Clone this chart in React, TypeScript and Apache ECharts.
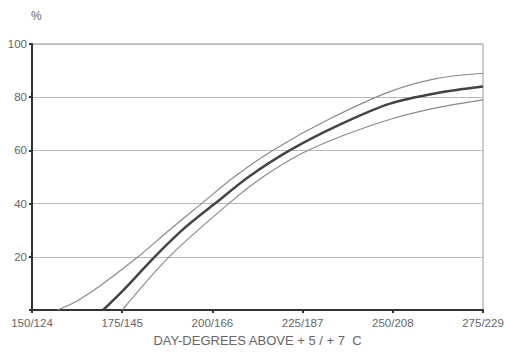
import React, { useEffect, useRef } from "react";
import * as echarts from "echarts";

const xTickValues = [150, 175, 200, 225, 250, 275];
const xTickLabels = ["150/124", "175/145", "200/166", "225/187", "250/208", "275/229"];

const mainX = [169.7, 175, 184, 192, 200.7, 210, 221.4, 235, 249, 262, 275];
const mainY = [0, 7, 20, 30.5, 40, 50, 60, 69.5, 77.5, 81.5, 84];

const upperX = [157, 162, 168.8, 179.4, 188, 197, 206, 216.7, 232, 249, 262, 275];
const upperY = [0, 3, 9, 20, 30, 40, 50, 60, 71.5, 82, 87, 89];

const lowerX = [175, 188, 204.5, 214, 225, 237, 250, 262, 275];
const lowerY = [0, 20, 40, 50, 59, 66, 72, 76, 79];

const zip = (xs: number[], ys: number[]) => xs.map((x, i) => [x, ys[i]]);

export default function App() {
  const ref = useRef<HTMLDivElement>(null);
  useEffect(() => {
    if (!ref.current) return;
    const chart = echarts.init(ref.current, null, { renderer: "svg" });
    const font = "'Liberation Sans', Arial, sans-serif";
    chart.setOption({
      animation: false,
      backgroundColor: "#ffffff",
      grid: {
        left: 32,
        right: 27,
        top: 44,
        bottom: 41,
        show: true,
        borderColor: "#999",
        borderWidth: 1,
      },
      graphic: [
        {
          type: "text",
          left: 31,
          top: 10,
          style: { text: "%", fill: "#666", font: `12px ${font}` },
        },
      ],
      xAxis: {
        type: "value",
        min: 150,
        max: 275,
        interval: 25,
        name: "DAY-DEGREES ABOVE + 5 / + 7  C",
        nameLocation: "middle",
        nameGap: 24,
        nameTextStyle: { color: "#666", fontSize: 13, fontFamily: font },
        axisLine: { show: true, lineStyle: { color: "#333", width: 2 } },
        axisTick: { show: true, length: 3, lineStyle: { color: "#333", width: 2 } },
        axisLabel: {
          color: "#666",
          fontSize: 11.5,
          fontFamily: font,
          margin: 7,
          formatter: (v: number) => {
            const i = xTickValues.indexOf(v);
            return i >= 0 ? xTickLabels[i] : "";
          },
        },
        splitLine: { show: false },
      },
      yAxis: {
        type: "value",
        min: 0,
        max: 100,
        interval: 20,
        axisLine: { show: true, lineStyle: { color: "#333", width: 2 } },
        axisTick: { show: true, length: 3, lineStyle: { color: "#333", width: 2 } },
        axisLabel: {
          color: "#666",
          fontSize: 11.5,
          fontFamily: font,
          margin: 5,
          formatter: (v: number) => (v === 0 ? "" : String(v)),
        },
        splitLine: { show: true, lineStyle: { color: "#bbb", width: 1 } },
      },
      series: [
        {
          type: "line",
          data: zip(upperX, upperY),
          smooth: 0.3,
          showSymbol: false,
          lineStyle: { color: "#8a8a8a", width: 1.2 },
        },
        {
          type: "line",
          data: zip(lowerX, lowerY),
          smooth: 0.3,
          showSymbol: false,
          lineStyle: { color: "#8a8a8a", width: 1.2 },
        },
        {
          type: "line",
          data: zip(mainX, mainY),
          smooth: 0.3,
          showSymbol: false,
          lineStyle: { color: "#444", width: 2.5 },
        },
      ],
    });
    return () => chart.dispose();
  }, []);
  return <div ref={ref} style={{ width: 510, height: 352, position: "absolute", left: 0, top: 0 }} />;
}
